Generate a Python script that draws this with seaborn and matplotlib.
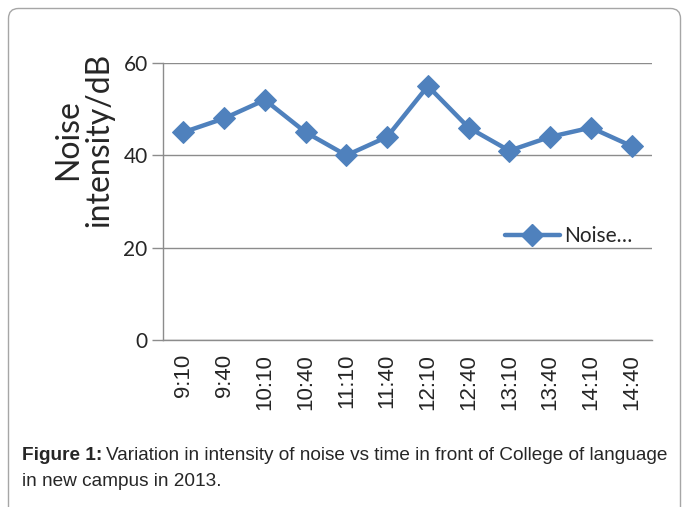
import matplotlib
matplotlib.use("Agg")
import matplotlib.pyplot as plt
from matplotlib.patches import FancyBboxPatch
from matplotlib.lines import Line2D
from matplotlib.transforms import IdentityTransform
import seaborn as sns
import pandas as pd

# data
times = ["9:10", "9:40", "10:10", "10:40", "11:10", "11:40",
         "12:10", "12:40", "13:10", "13:40", "14:10", "14:40"]
noise = [45, 48, 52, 45, 40, 44, 55, 46, 41, 44, 46, 42]
y_ticks = [0, 20, 40, 60]

blue = "#4F81BD"
grid_grey = "#8C8C8C"

df = pd.DataFrame({"time": times, "noise": noise})

sns.set_style("white")
plt.rcParams["font.family"] = ["Lato", "DejaVu Sans"]

fig = plt.figure(figsize=(6.83, 5.07), dpi=100)
ax = fig.add_axes([163 / 683, 1 - 340 / 507, (652 - 163) / 683, (340 - 63) / 507])

sns.lineplot(data=df, x="time", y="noise", ax=ax, color=blue, linewidth=3.2,
             marker="D", markersize=11, markeredgecolor=blue, sort=False)

ax.set_xlim(-0.5, len(times) - 0.5)
ax.set_ylim(0, 60)
ax.set_yticks(y_ticks)
ax.set_yticklabels([str(v) for v in y_ticks], fontsize=15)
ax.yaxis.grid(True, color=grid_grey, linewidth=1)
ax.set_axisbelow(True)

# category labels at centres, tick marks at the boundaries
ax.set_xticks(range(len(times)))
ax.set_xticklabels(times, rotation=90, fontsize=16, family="Liberation Sans")
ax.tick_params(axis="x", which="major", length=0, pad=10)
ax.set_xticks([i - 0.5 for i in range(len(times) + 1)], minor=True)
ax.tick_params(axis="x", which="minor", length=7, width=1, color=grid_grey, direction="out")
ax.tick_params(axis="y", length=8, width=1, color=grid_grey, direction="out", left=True, pad=3)

for side in ["top", "right"]:
    ax.spines[side].set_visible(False)
for side in ["left", "bottom"]:
    ax.spines[side].set_color(grid_grey)
    ax.spines[side].set_linewidth(1)

ax.set_xlabel("")
ax.set_ylabel("Noise\nintensity/dB", fontsize=23, linespacing=1.05)
ax.yaxis.label.set_va("center")
ax.yaxis.set_label_coords((84 - 163) / 489, (340 - 140) / 277)

handle = Line2D([], [], color=blue, linewidth=3.2, marker="D", markersize=11)
fig.legend([handle], ["Noise…"], loc="center left", frameon=False, fontsize=15,
           bbox_to_anchor=(497 / 683, 1 - 236 / 507), handlelength=2.6,
           handletextpad=0.2, borderaxespad=0)

# rounded frame around the whole figure
frame = FancyBboxPatch((8.5, -30), 672, 507 - 8.5 + 30,
                       boxstyle="round,pad=0,rounding_size=10",
                       transform=IdentityTransform(), facecolor="none",
                       edgecolor="#A6A6A6", linewidth=1)
fig.patches.append(frame)

# caption with bold prefix
cap_size = 13.7
t1 = fig.text(22 / 683, 1 - 456 / 507, "Figure 1:", fontsize=cap_size, fontweight="bold",
              family="Liberation Sans", va="center", ha="left")
fig.canvas.draw()
bb = t1.get_window_extent()
fig.text((bb.x1 + 4) / 683, 1 - 456 / 507,
         "Variation in intensity of noise vs time in front of College of language",
         fontsize=cap_size, family="Liberation Sans", va="center", ha="left")
fig.text(22 / 683, 1 - 481 / 507, "in new campus in 2013.", fontsize=cap_size,
         family="Liberation Sans", va="center", ha="left")

fig.savefig("out.png", dpi=100)
